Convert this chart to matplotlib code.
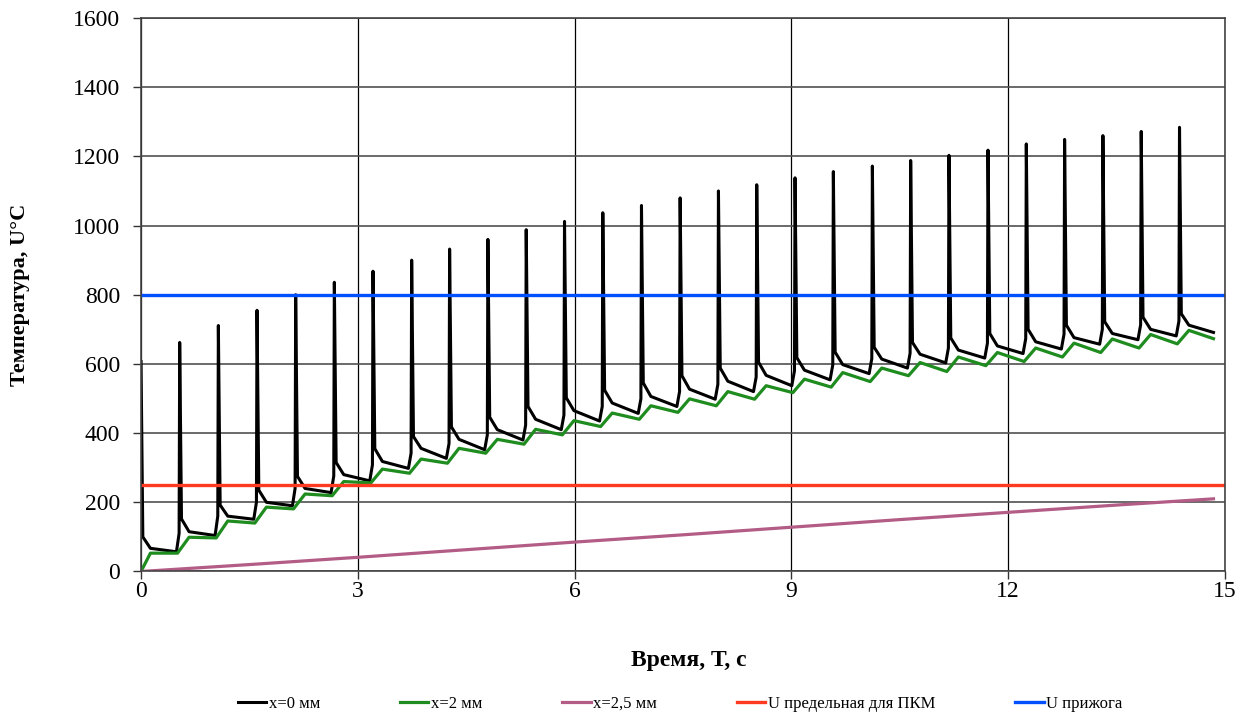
import matplotlib.pyplot as plt

plt.rcParams['font.family'] = ['Liberation Serif', 'DejaVu Serif']

# моменты импульсов, с
pulse_t = [0.0, 0.535, 1.07, 1.605, 2.14, 2.675, 3.21, 3.745, 4.27, 4.80,
           5.33, 5.86, 6.39, 6.925, 7.46, 7.99, 8.52, 9.05, 9.58, 10.12,
           10.65, 11.18, 11.72, 12.25, 12.78, 13.31, 13.84, 14.37]
t_end = 14.84

# x=0 мм: пик, спад после пика, излом кривой, минимум перед импульсом, подъём перед импульсом
peak0 = [607, 662, 711, 755, 800, 836, 868, 900, 932, 960, 988, 1012, 1037, 1058,
         1080, 1100, 1118, 1138, 1156, 1172, 1188, 1203, 1218, 1236, 1249, 1260, 1272, 1284]
drop0 = [100, 152, 192, 235, 275, 315, 355, 390, 418, 446, 477, 502, 524, 545,
         566, 588, 605, 618, 634, 648, 662, 675, 688, 700, 712, 722, 735, 745]
knee0 = [67, 115, 160, 200, 240, 280, 318, 356, 382, 410, 440, 465, 487, 506,
         527, 550, 567, 582, 598, 614, 628, 640, 652, 664, 676, 688, 700, 712]
valley0 = [57, 104, 151, 190, 228, 262, 298, 327, 352, 380, 410, 435, 457, 477,
           498, 520, 537, 554, 572, 588, 603, 617, 630, 643, 657, 670, 681, 691]
rise0 = [110, 160, 200, 240, 276, 308, 342, 370, 395, 423, 452, 477, 499, 520,
         541, 562, 580, 597, 615, 631, 646, 660, 673, 686, 700, 713, 724]

# x=2 мм: значение в начале импульса и после подъёма
low2 = [0, 53, 97, 140, 181, 219, 256, 284, 313, 342, 368, 395, 419, 440,
        460, 479, 498, 517, 533, 549, 566, 578, 595, 607, 620, 633, 646, 658]
high2 = [53, 99, 146, 186, 224, 260, 296, 325, 356, 382, 411, 436, 458, 479,
         499, 520, 537, 556, 575, 588, 604, 620, 633, 646, 660, 672, 685, 697]
end2 = 673

# x=2,5 мм
t_25 = [0, 1.5, 3, 4.5, 6, 7.5, 9, 10.5, 12, 13.5, 14.84]
T_25 = [0, 20, 41, 63, 85, 106, 128, 150, 171, 192, 210]

T_pkm = 250
T_burn = 800

# ломаная для x=0 мм
t0, T0 = [], []
for k, tk in enumerate(pulse_t):
    if k > 0:
        t0 += [tk - 0.045, tk - 0.008]
        T0 += [valley0[k - 1], rise0[k - 1]]
    t0 += [tk, tk + 0.025, tk + 0.13]
    T0 += [peak0[k], drop0[k], knee0[k]]
t0.append(t_end)
T0.append(valley0[-1])

# ломаная для x=2 мм
t2, T2 = [], []
for k, tk in enumerate(pulse_t):
    t2 += [max(tk - 0.03, 0), tk + 0.13]
    T2 += [low2[k], high2[k]]
t2.append(t_end)
T2.append(end2)

fig = plt.figure(figsize=(12.48, 7.14), dpi=100)
ax = fig.add_axes([0.113, 0.1996, 0.8686, 0.7752])

ax.plot(t0, T0, color='black', lw=2.2, label='x=0 мм', solid_joinstyle='round')
ax.plot(t2, T2, color='#1f8c1f', lw=2.3, label='x=2 мм', solid_joinstyle='round')
ax.plot(t_25, T_25, color='#b35c86', lw=2.3, label='x=2,5 мм')
ax.plot([0, 15], [T_pkm, T_pkm], color='#ff3a20', lw=2.4, label='U предельная для ПКМ')
ax.plot([0, 15], [T_burn, T_burn], color='#0050ff', lw=2.4, label='U прижога')

ax.set_xlim(0, 15)
ax.set_ylim(0, 1600)
ax.set_xticks(range(0, 16, 3))
ax.set_yticks(range(0, 1601, 200))
ax.tick_params(labelsize=17, direction='out', length=6, color='#333333', width=1)
ax.tick_params(axis='x', pad=1)
ax.tick_params(axis='y', pad=9)

ax.grid(axis='y', color='#505050', lw=1.2)
ax.grid(axis='x', color='black', lw=0.9)
ax.set_axisbelow(True)
for sp in ax.spines.values():
    sp.set_color('#444444')
    sp.set_linewidth(1.2)

ax.set_xlabel('Время, Т, с', fontsize=17, fontweight='bold')
ax.set_ylabel('Температура, U°C', fontsize=16, fontweight='bold')
ax.xaxis.set_label_coords(0.505, -0.142)
ax.yaxis.set_label_coords(-0.102, 0.5)

fig.legend(loc='lower center', bbox_to_anchor=(0.545, -0.018), ncol=5, frameon=False,
           fontsize=12, handlelength=1.7, columnspacing=4.8, handletextpad=0.15)

fig.savefig('out.png', dpi=100)
